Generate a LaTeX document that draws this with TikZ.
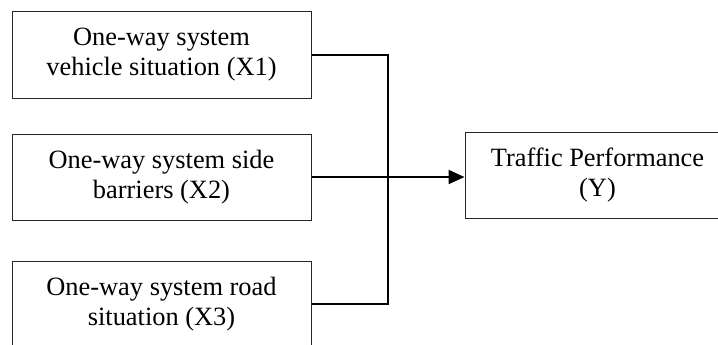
\documentclass[tikz,border=0pt]{standalone}
\usepackage{fontspec}
\setmainfont{Liberation Serif}
\usetikzlibrary{arrows.meta}
\tikzset{
    caja/.style={draw=black!85, line width=0.75pt, minimum width=224.25pt, minimum height=64.5pt,
        align=center, inner sep=0pt, font=\fontsize{19.8pt}{22.5pt}\selectfont},
    flecha/.style={line width=1.5pt}
}
\begin{document}
\begin{tikzpicture}[x=0.75pt, y=-0.75pt]
    % Marco de la figura
    \clip (0,0) rectangle (718,344);
    
    % Variables independientes
    \node[caja, minimum height=65.25pt] (x1) at (161.5,54.5) {One-way system\\vehicle situation (X1)};
    \node[caja] (x2) at (161.5,177) {One-way system side\\barriers (X2)};
    \node[caja] (x3) at (161.5,304) {One-way system road\\situation (X3)};
    
    % Variable dependiente
    \node[caja, minimum width=198.75pt] (y) at (597.5,175) {Traffic Performance\\(Y)};
    
    % Conexiones
    \draw[flecha] (x1.east) -- ++(76,0) |- (x3.east);
    \draw[flecha, -{Triangle[length=12pt, width=10.5pt]}] (x2.east) -- (x2.east -| y.west);
\end{tikzpicture}
\end{document}
